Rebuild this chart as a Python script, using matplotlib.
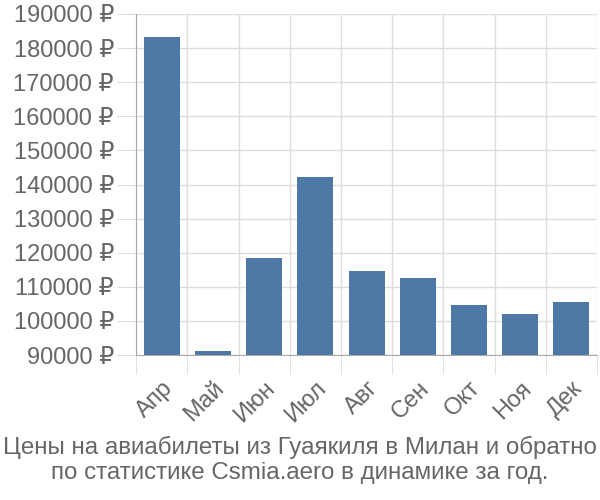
import numpy as np
import matplotlib
matplotlib.use("Agg")
import matplotlib.pyplot as plt
from matplotlib.ticker import FixedLocator

plt.rcParams['font.family'] = ['Liberation Sans', 'DejaVu Sans']

months = ['Апр', 'Май', 'Июн', 'Июл', 'Авг', 'Сен', 'Окт', 'Ноя', 'Дек']
prices = [183300, 91200, 118500, 142300, 114600, 112700, 104700, 102000, 105400]
yticks = list(range(90000, 190001, 10000))
title = 'Цены на авиабилеты из Гуаякиля в Милан и обратно\nпо статистике Csmia.aero в динамике за год.'

fig = plt.figure(figsize=(6, 5), dpi=100)
ax = fig.add_axes([0.227, 0.29, 0.768, 0.682])

x = np.arange(len(months))
ax.bar(x, [p - 90000 for p in prices], bottom=90000, width=0.70,
       color='#4e79a7', zorder=3)

ax.set_xlim(-0.5, len(months) - 0.5)
ax.set_ylim(90000, 190000)
ax.set_yticks(yticks)
ax.set_yticklabels([f'{v} ₽' for v in yticks])
ax.set_xticks(x)
ax.set_xticklabels(months, rotation=45, ha='right', va='top', rotation_mode='anchor')
ax.xaxis.set_minor_locator(FixedLocator(np.arange(-0.5, len(months), 1.0)))

ax.grid(axis='y', color='#dddddd', linewidth=1, zorder=0)
ax.grid(axis='x', which='minor', color='#dddddd', linewidth=1, zorder=0)
ax.tick_params(axis='x', which='major', length=0, pad=16, labelsize=17, labelcolor='#666666')
ax.tick_params(axis='x', which='minor', length=14, color='#dddddd')
ax.tick_params(axis='y', length=14, color='#dddddd', labelsize=17, labelcolor='#666666', pad=2)

for s in ['top', 'right']:
    ax.spines[s].set_visible(False)
ax.spines['left'].set_color('#aaaaaa')
ax.spines['bottom'].set_color('#aaaaaa')

fig.text(0.5, 0.08, title, ha='center', va='center', fontsize=17.4,
         color='#666666', linespacing=1.2)

fig.savefig('out.png', dpi=100)
